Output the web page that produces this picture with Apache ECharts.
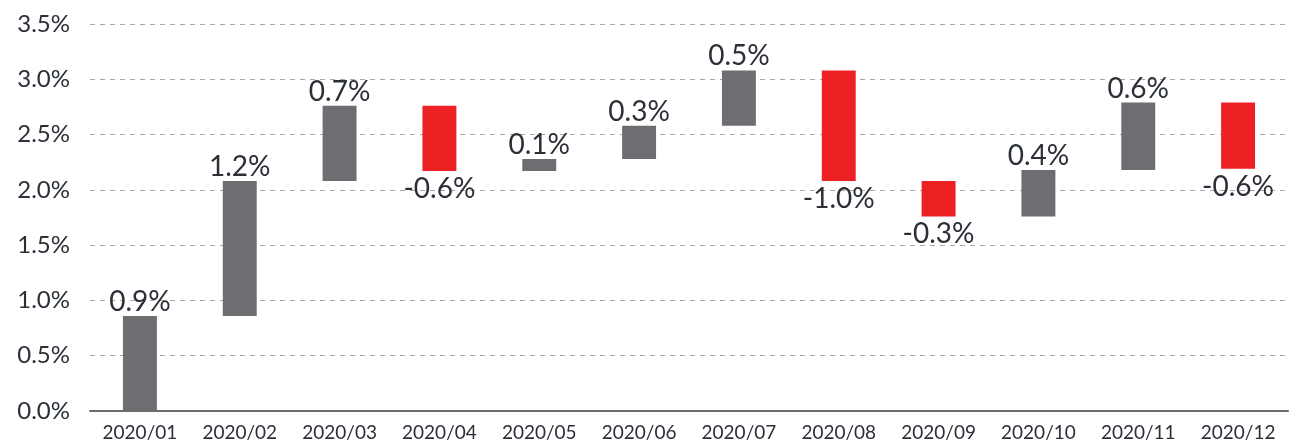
<!DOCTYPE html>
<html>
<head>
<meta charset="utf-8">
<script src="https://cdn.jsdelivr.net/npm/echarts@6/dist/echarts.min.js"></script>
<style>
  html, body { margin: 0; padding: 0; background: #fff; }
  #chart { width: 1293px; height: 444px; }
</style>
</head>
<body>
<div id="chart"></div>
<script>
// 月份
const months = ['2020/01', '2020/02', '2020/03', '2020/04', '2020/05', '2020/06',
  '2020/07', '2020/08', '2020/09', '2020/10', '2020/11', '2020/12'];
// 每月变化（%）
const changes = [0.86, 1.22, 0.68, -0.59, 0.11, 0.30, 0.50, -1.00, -0.32, 0.42, 0.61, -0.60];
// y 轴刻度
const yTicks = [0, 0.5, 1.0, 1.5, 2.0, 2.5, 3.0, 3.5];

const UP = '#6d6e71';
const DOWN = '#ed2024';
const TEXT = '#2b2f38';
const FONT = 'Lato, "Noto Sans", sans-serif';

// 瀑布图：透明底座 + 可见柱
const base = [];
const bars = [];
let level = 0;
changes.forEach((d) => {
  const end = level + d;
  base.push(Math.min(level, end));
  bars.push({
    value: Math.abs(d),
    itemStyle: { color: d >= 0 ? UP : DOWN },
    label: {
      position: d >= 0 ? 'top' : 'bottom',
      distance: d >= 0 ? 0 : 4,
      formatter: d.toFixed(1) + '%'
    }
  });
  level = end;
});

const chart = echarts.init(document.getElementById('chart'));
chart.setOption({
  animation: false,
  grid: { left: 90, right: 5, top: 24, bottom: 33 },
  xAxis: {
    type: 'category',
    data: months,
    axisTick: { show: false },
    axisLine: { lineStyle: { color: '#6b6b6b', width: 2 } },
    axisLabel: { color: TEXT, fontSize: 19, fontFamily: FONT, margin: 12 }
  },
  yAxis: {
    type: 'value',
    min: yTicks[0],
    max: yTicks[yTicks.length - 1],
    interval: 0.5,
    axisLine: { show: false },
    axisTick: { show: false },
    axisLabel: {
      color: TEXT, fontSize: 24, fontFamily: FONT, margin: 20,
      formatter: (v) => v.toFixed(1) + '%'
    },
    splitLine: { lineStyle: { color: '#a8a8a8', type: [5, 5], width: 1 } }
  },
  series: [
    {
      type: 'bar',
      stack: 'w',
      data: base,
      barWidth: '34%',
      itemStyle: { color: 'transparent' },
      silent: true
    },
    {
      type: 'bar',
      stack: 'w',
      data: bars,
      barWidth: '34%',
      label: {
        show: true,
        color: TEXT,
        fontSize: 28,
        fontFamily: FONT
      }
    }
  ]
});
</script>
</body>
</html>
